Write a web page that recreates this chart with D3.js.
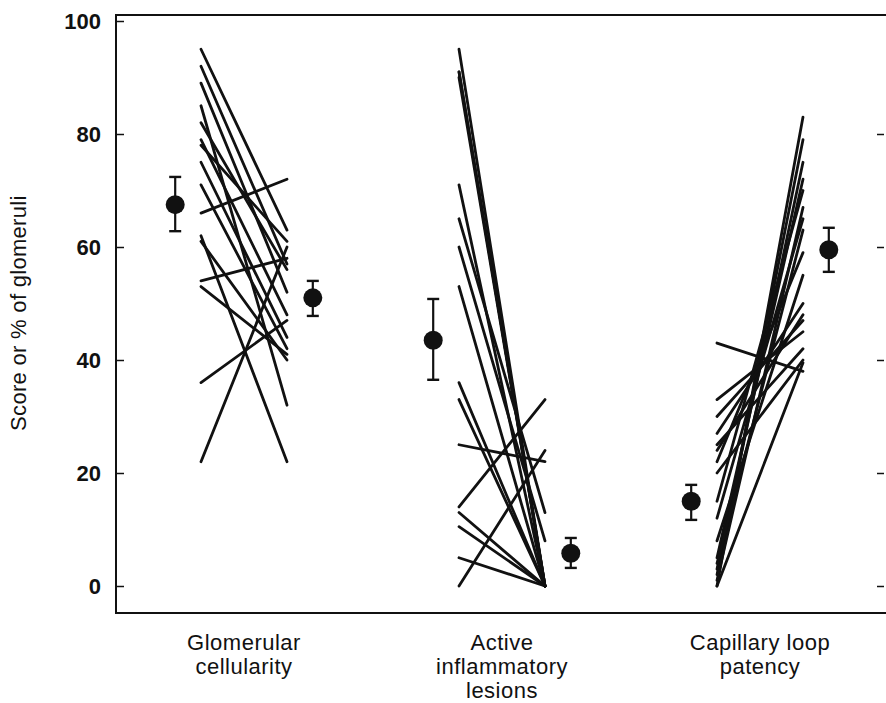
<!DOCTYPE html>
<html>
<head>
<meta charset="utf-8">
<script src="https://cdn.jsdelivr.net/npm/d3@7"></script>
<style>
  body { margin: 0; background: #fff; }
  svg { display: block; }
  text { font-family: "Liberation Sans", Arial, sans-serif; fill: #111; }
</style>
</head>
<body>
<script>
// categories along the x axis
var categories = ["Glomerular cellularity", "Active inflammatory lesions", "Capillary loop patency"];
var categoryLabels = [["Glomerular", "cellularity"], ["Active", "inflammatory", "lesions"], ["Capillary loop", "patency"]];
var yTicks = [0, 20, 40, 60, 80, 100];

// individual patients, before -> after
var cellularityBefore = [95, 92, 89, 85, 82, 79, 78, 75, 71, 66, 62, 61, 54, 53, 36, 22];
var cellularityAfter  = [63, 57, 52, 32, 56, 48, 61, 44, 42, 72, 22, 40, 58, 41, 47, 60];

var inflammBefore = [95, 91, 91, 90, 71, 65, 60, 53, 36, 33, 25, 14, 13, 10.5, 5, 0];
var inflammAfter  = [0, 0, 0, 0, 0, 13, 8, 0, 0, 0, 22, 33, 0, 0, 0, 24];

var patencyBefore = [0, 2, 3, 5, 1, 12, 4, 22, 24, 33, 25, 20, 0, 43, 15, 8, 27, 30];
var patencyAfter  = [83, 79, 75, 72, 67, 65, 63, 59, 48, 45, 42, 40, 39.5, 38, 70, 55, 50, 47];

// group means with error bars
var meanBefore = [67.5, 43.5, 15];
var lowBefore  = [62.8, 36.5, 11.7];
var highBefore = [72.4, 50.8, 17.9];
var meanAfter  = [51, 5.8, 59.5];
var lowAfter   = [47.8, 3.2, 55.6];
var highAfter  = [54, 8.5, 63.4];

var before = [cellularityBefore, inflammBefore, patencyBefore];
var after = [cellularityAfter, inflammAfter, patencyAfter];

var W = 886, H = 703;
var frameL = 116, frameR = 887, frameT = 15, frameB = 613;

var svg = d3.select("body").append("svg")
    .attr("width", W)
    .attr("height", H);

var y = d3.scaleLinear().domain([0, 100]).range([586, 21]);
var x = d3.scaleBand().domain(categories).range([115, 889]);
// position inside a group: 0 = before, 1 = after
var t = d3.scaleLinear().domain([0, 1]).range([-43, 43]);

function cx(i, v) {
    return x(categories[i]) + x.bandwidth() / 2 + t(v);
}

// frame
svg.append("path")
    .attr("d", "M" + frameR + "," + frameT + "H" + frameL + "V" + frameB + "H" + frameR)
    .attr("fill", "none")
    .attr("stroke", "#111")
    .attr("stroke-width", 2);

var yAxis = svg.append("g")
    .attr("transform", "translate(" + frameL + ",0)")
    .call(d3.axisLeft(y).tickValues(yTicks).tickSize(-8).tickPadding(15));
yAxis.select(".domain").remove();
yAxis.selectAll("line").attr("stroke", "#111").attr("stroke-width", 1.5);
yAxis.selectAll("text")
    .attr("font-size", 22)
    .attr("font-weight", "bold")
    .style("font-family", "'Liberation Sans', Arial, sans-serif")
    .attr("fill", "#111");

var yAxisR = svg.append("g")
    .attr("transform", "translate(884,0)")
    .call(d3.axisRight(y).tickValues(yTicks.slice(0, 5)).tickSize(-7).tickFormat(""));
yAxisR.select(".domain").remove();
yAxisR.selectAll("line").attr("stroke", "#111").attr("stroke-width", 1.5);

svg.append("text")
    .attr("transform", "translate(26," + y(48.3) + ") rotate(-90)")
    .attr("text-anchor", "middle")
    .attr("font-size", 22)
    .attr("letter-spacing", 0.3)
    .text("Score or % of glomeruli");

// patient lines
categories.forEach(function(c, i) {
    var pairs = before[i].map(function(b, j) { return [b, after[i][j]]; });
    svg.append("g").selectAll("line")
        .data(pairs)
        .enter()
        .append("line")
        .attr("x1", cx(i, 0))
        .attr("x2", cx(i, 1))
        .attr("y1", function(d) { return y(d[0]); })
        .attr("y2", function(d) { return y(d[1]); })
        .attr("stroke", "#111")
        .attr("stroke-width", 2.8)
        .attr("stroke-linecap", "round");
});

// means and error bars
function drawMean(i, pos, m, lo, hi) {
    var g = svg.append("g");
    var px = cx(i, pos);
    g.append("line").attr("x1", px).attr("x2", px)
        .attr("y1", y(lo)).attr("y2", y(hi))
        .attr("stroke", "#111").attr("stroke-width", 2.2);
    [lo, hi].forEach(function(v) {
        g.append("line").attr("x1", px - 6).attr("x2", px + 6)
            .attr("y1", y(v)).attr("y2", y(v))
            .attr("stroke", "#111").attr("stroke-width", 2.4);
    });
    g.append("circle").attr("cx", px).attr("cy", y(m)).attr("r", 9.5).attr("fill", "#111");
}
categories.forEach(function(c, i) {
    drawMean(i, -0.3, meanBefore[i], lowBefore[i], highBefore[i]);
    drawMean(i, 1.3, meanAfter[i], lowAfter[i], highAfter[i]);
});

// category labels
categories.forEach(function(c, i) {
    var txt = svg.append("text")
        .attr("x", x(c) + x.bandwidth() / 2)
        .attr("y", 650)
        .attr("text-anchor", "middle")
        .attr("font-size", 22)
        .attr("letter-spacing", 0.5);
    categoryLabels[i].forEach(function(s, k) {
        txt.append("tspan")
            .attr("x", x(c) + x.bandwidth() / 2)
            .attr("dy", k == 0 ? 0 : 24)
            .text(s);
    });
});
</script>
</body>
</html>
